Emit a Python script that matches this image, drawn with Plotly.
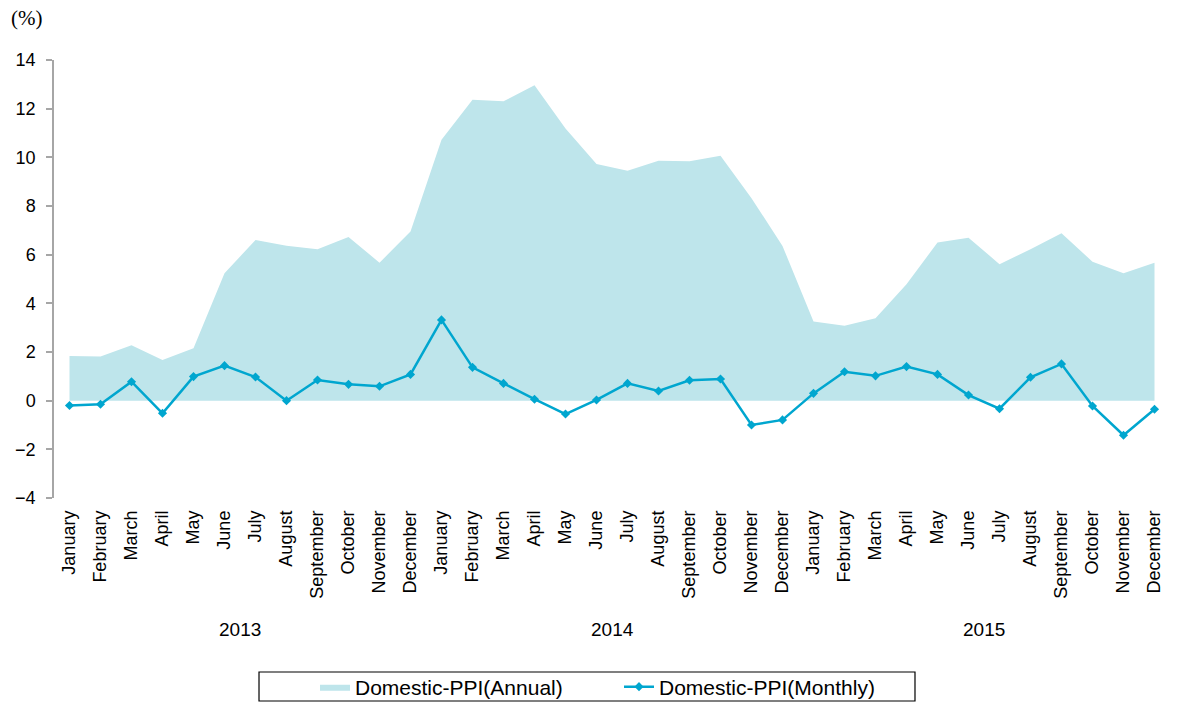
import plotly.graph_objects as go

months = ["January", "February", "March", "April", "May", "June", "July",
          "August", "September", "October", "November", "December"]
years = ["2013", "2014", "2015"]
tick_labels = months * 3
x_idx = list(range(len(tick_labels)))

annual = [1.84, 1.81, 2.28, 1.67, 2.15, 5.24, 6.60, 6.37, 6.22, 6.73, 5.67, 6.95,
          10.72, 12.37, 12.30, 12.96, 11.19, 9.73, 9.45, 9.86, 9.84, 10.07, 8.32, 6.36,
          3.25, 3.08, 3.39, 4.78, 6.50, 6.70, 5.61, 6.22, 6.88, 5.71, 5.24, 5.67]
monthly = [-0.20, -0.15, 0.78, -0.52, 0.99, 1.44, 0.97, 0.00, 0.85, 0.67, 0.59, 1.08,
           3.32, 1.37, 0.71, 0.06, -0.55, 0.03, 0.71, 0.40, 0.84, 0.89, -1.00, -0.79,
           0.30, 1.19, 1.02, 1.40, 1.08, 0.23, -0.33, 0.96, 1.51, -0.22, -1.42, -0.35]

y_ticks = [-4, -2, 0, 2, 4, 6, 8, 10, 12, 14]

FONT = "Liberation Sans, Arial, sans-serif"
AREA = "#BEE5EB"
LINE = "#00A6CF"
AXIS = "#A6A6A6"

fig = go.Figure()
fig.add_trace(go.Scatter(
    x=x_idx, y=annual, name="Domestic-PPI(Annual)", mode="lines",
    fill="tozeroy", fillcolor=AREA, line=dict(width=0, color=AREA),
))
fig.add_trace(go.Scatter(
    x=x_idx, y=monthly, name="Domestic-PPI(Monthly)", mode="lines+markers",
    line=dict(width=2.5, color=LINE),
    marker=dict(symbol="diamond", size=7, color=LINE),
))

for i, yr in enumerate(years):
    fig.add_annotation(x=i * 12 + 5.5, xref="x", y=-0.301, yref="paper",
                       text=yr, showarrow=False, xanchor="center", yanchor="middle",
                       font=dict(family=FONT, size=19, color="#000000"))

fig.add_annotation(x=-0.0403, xref="paper", y=1.0959, yref="paper",
                   text="(%)", showarrow=False, xanchor="left", yanchor="middle",
                   font=dict(family="Liberation Serif, Times New Roman, serif",
                             size=21, color="#000000"))

fig.add_shape(type="rect", xref="paper", yref="paper",
              x0=0.1837, x1=0.7715, y0=-0.3973, y1=-0.4635,
              line=dict(color="#000000", width=1.2), fillcolor="rgba(0,0,0,0)")

fig.update_layout(
    width=1178, height=703, autosize=False,
    margin=dict(l=54, r=8, t=60, b=205),
    paper_bgcolor="white", plot_bgcolor="white",
    font=dict(family=FONT, size=18, color="#000000"),
    showlegend=True,
    legend=dict(orientation="h", xref="container", yref="container",
                x=315 / 1178, xanchor="left", y=1 - 687 / 703, yanchor="middle",
                entrywidth=259, font=dict(family=FONT, size=21),
                bgcolor="rgba(0,0,0,0)", borderwidth=0),
    xaxis=dict(range=[-0.5, 35.5], tickmode="array", tickvals=x_idx,
               ticktext=tick_labels, tickangle=-90, showgrid=False,
               zeroline=False, showline=False, ticks="",
               ticklabelstandoff=8, tickfont=dict(size=18)),
    yaxis=dict(range=[-4, 14], tickmode="array", tickvals=y_ticks,
               showgrid=False, zeroline=False, showline=True,
               linecolor=AXIS, linewidth=1.5, ticks="outside",
               tickcolor=AXIS, ticklen=6, tickwidth=1.5,
               ticklabelstandoff=7, tickfont=dict(size=18)),
)

fig.write_html("out.html", config={"displayModeBar": False},
               post_script="document.body.style.margin='0px';")
